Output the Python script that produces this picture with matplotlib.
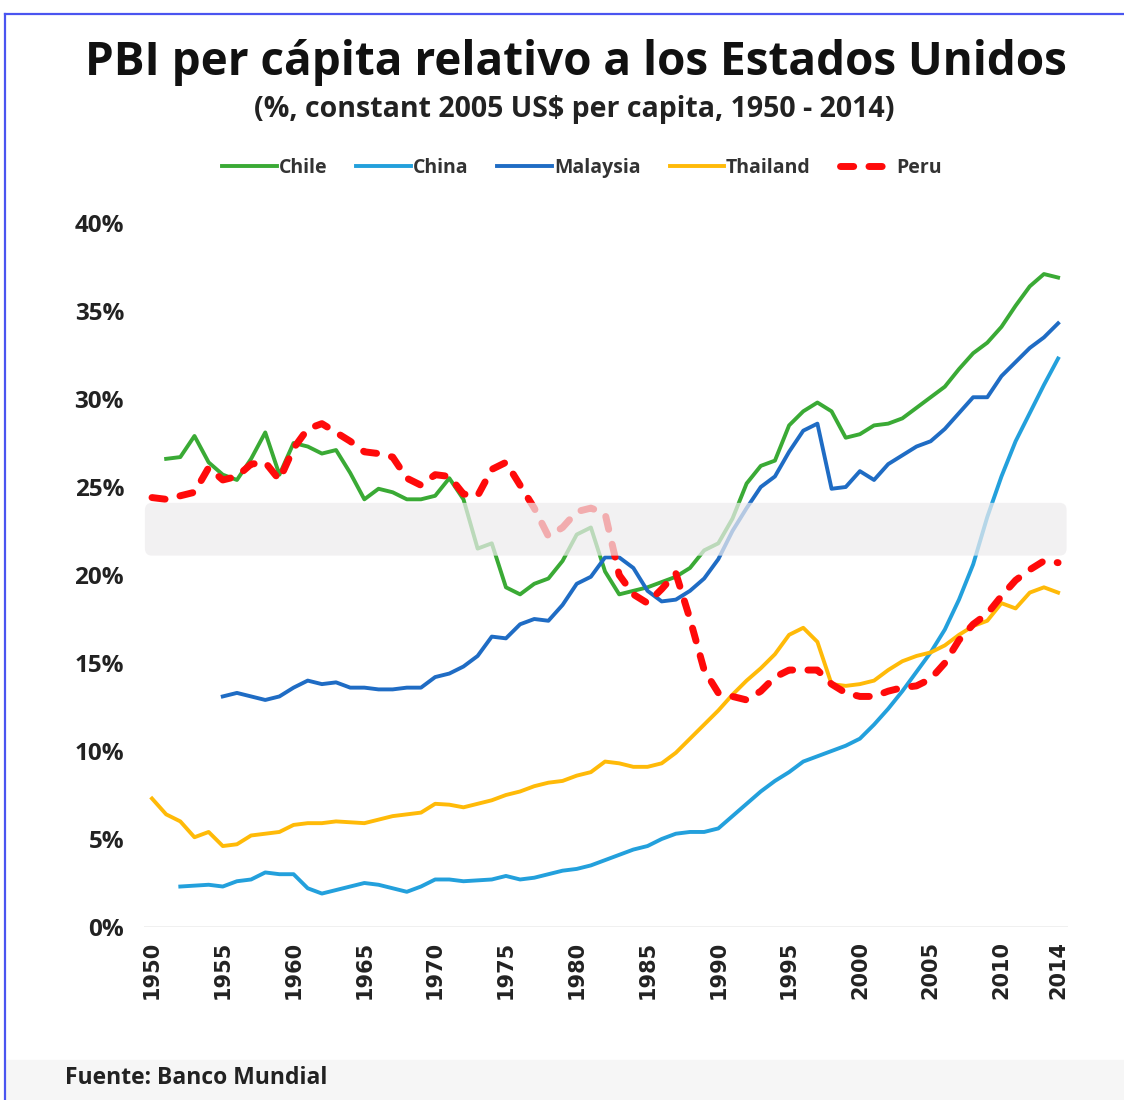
import numpy as np
import matplotlib
matplotlib.use('Agg')
import matplotlib.pyplot as plt
from matplotlib.patches import FancyBboxPatch, Rectangle
from matplotlib.lines import Line2D

plt.rcParams['font.family'] = ['Open Sans', 'DejaVu Sans']

years = list(range(1950, 2015))
nan = np.nan

chile = [nan, 26.6, 26.7, 27.9, 26.4, 25.7, 25.4, 26.6, 28.1, 25.7,
         27.5, 27.3, 26.9, 27.1, 25.8, 24.3, 24.9, 24.7, 24.3, 24.3,
         24.5, 25.5, 24.3, 21.5, 21.8, 19.3, 18.9, 19.5, 19.8, 20.8,
         22.3, 22.7, 20.2, 18.9, 19.1, 19.3, 19.6, 19.9, 20.4, 21.4,
         21.8, 23.2, 25.2, 26.2, 26.5, 28.5, 29.3, 29.8, 29.3, 27.8,
         28.0, 28.5, 28.6, 28.9, 29.5, 30.1, 30.7, 31.7, 32.6, 33.2,
         34.1, 35.3, 36.4, 37.1, 36.9]

china = [nan, nan, 2.3, 2.35, 2.4, 2.3, 2.6, 2.7, 3.1, 3.0,
         3.0, 2.2, 1.9, 2.1, 2.3, 2.5, 2.4, 2.2, 2.0, 2.3,
         2.7, 2.7, 2.6, 2.65, 2.7, 2.9, 2.7, 2.8, 3.0, 3.2,
         3.3, 3.5, 3.8, 4.1, 4.4, 4.6, 5.0, 5.3, 5.4, 5.4,
         5.6, 6.3, 7.0, 7.7, 8.3, 8.8, 9.4, 9.7, 10.0, 10.3,
         10.7, 11.5, 12.4, 13.4, 14.5, 15.6, 16.9, 18.6, 20.6, 23.3,
         25.6, 27.6, 29.2, 30.8, 32.3]

malaysia = [nan, nan, nan, nan, nan, 13.1, 13.3, 13.1, 12.9, 13.1,
            13.6, 14.0, 13.8, 13.9, 13.6, 13.6, 13.5, 13.5, 13.6, 13.6,
            14.2, 14.4, 14.8, 15.4, 16.5, 16.4, 17.2, 17.5, 17.4, 18.3,
            19.5, 19.9, 21.0, 21.0, 20.4, 19.1, 18.5, 18.6, 19.1, 19.8,
            20.9, 22.5, 23.8, 25.0, 25.6, 27.0, 28.2, 28.6, 24.9, 25.0,
            25.9, 25.4, 26.3, 26.8, 27.3, 27.6, 28.3, 29.2, 30.1, 30.1,
            31.3, 32.1, 32.9, 33.5, 34.3]

thailand = [7.3, 6.4, 6.0, 5.1, 5.4, 4.6, 4.7, 5.2, 5.3, 5.4,
            5.8, 5.9, 5.9, 6.0, 5.95, 5.9, 6.1, 6.3, 6.4, 6.5,
            7.0, 6.95, 6.8, 7.0, 7.2, 7.5, 7.7, 8.0, 8.2, 8.3,
            8.6, 8.8, 9.4, 9.3, 9.1, 9.1, 9.3, 9.9, 10.7, 11.5,
            12.3, 13.2, 14.0, 14.7, 15.5, 16.6, 17.0, 16.2, 13.8, 13.7,
            13.8, 14.0, 14.6, 15.1, 15.4, 15.6, 16.0, 16.6, 17.1, 17.4,
            18.4, 18.1, 19.0, 19.3, 19.0]

peru = [24.4, 24.3, 24.5, 24.7, 26.1, 25.4, 25.6, 26.3, 26.4, 25.4,
        27.2, 28.3, 28.6, 28.1, 27.6, 27.0, 26.9, 26.7, 25.5, 25.1,
        25.7, 25.6, 24.6, 24.5, 26.0, 26.4, 25.1, 23.8, 22.2, 22.7,
        23.6, 23.8, 23.5, 20.0, 18.9, 18.4, 19.2, 20.1, 17.5, 14.6,
        13.3, 13.1, 12.9, 13.4, 14.2, 14.6, 14.6, 14.6, 13.8, 13.3,
        13.1, 13.1, 13.4, 13.6, 13.7, 14.1, 15.0, 16.3, 17.2, 17.8,
        18.8, 19.7, 20.3, 20.8, 20.7]

band_low, band_high = 21.1, 24.1
xticks = [1950, 1955, 1960, 1965, 1970, 1975, 1980, 1985, 1990, 1995, 2000, 2005, 2010, 2014]
yticks = [0, 5, 10, 15, 20, 25, 30, 35, 40]

W, H = 1124, 1100
fig = plt.figure(figsize=(W / 100, H / 100), dpi=100)

# page decoration: blue frame on top/left, light grey strip at the bottom
fig.add_artist(Rectangle((6 / W, 0), 1, 40 / H, transform=fig.transFigure, color='#f6f6f6', zorder=0))
fig.add_artist(Line2D([5 / W, 1], [1 - 14 / H, 1 - 14 / H], transform=fig.transFigure, color='#4a55f0', lw=1.6))
fig.add_artist(Line2D([5 / W, 5 / W], [0, 1 - 14 / H], transform=fig.transFigure, color='#4a55f0', lw=1.6))

ax = fig.add_axes([143.5 / W, 1 - 927 / H, (1068 - 143.5) / W, (927 - 223) / H])
ax.set_xlim(1949.4, 2014.7)
ax.set_ylim(0, 40)
for s in ax.spines.values():
    s.set_visible(False)
ax.axhline(0, color='#eeeeee', lw=1.2, zorder=1)

ax.plot(years, chile, color='#3aaa35', lw=2.8, label='Chile', zorder=3)
ax.plot(years, china, color='#23a0dc', lw=2.8, label='China', zorder=3)
ax.plot(years, malaysia, color='#1f6cc4', lw=2.8, label='Malaysia', zorder=3)
ax.plot(years, thailand, color='#ffba08', lw=2.8, label='Thailand', zorder=3)
ax.plot(years, peru, color='#ff0a0a', lw=5, ls=(0, (1.9, 2.2)), dash_capstyle='round',
        label='Peru', zorder=4)

band = FancyBboxPatch((1949.5, band_low), 2014.6 - 1949.5, band_high - band_low,
                      boxstyle='round,pad=0,rounding_size=0.5', mutation_aspect=0.8,
                      facecolor='#eeecee', edgecolor='none', alpha=0.72, zorder=5)
ax.add_patch(band)

ax.set_yticks(yticks)
ax.set_yticklabels([f'{v}%' for v in yticks], fontsize=17.5, fontweight='bold', color='#222222')
ax.set_xticks(xticks)
ax.set_xticklabels([str(v) for v in xticks], rotation=90, fontsize=15, fontweight='bold',
                   color='#222222', family='DejaVu Sans')
ax.tick_params(axis='y', length=0, pad=14)
ax.tick_params(axis='x', length=0, pad=10)

fig.text(0.512, 1 - 62 / H, 'PBI per cápita relativo a los Estados Unidos', ha='center', va='center',
         fontsize=33, fontweight='bold', color='#111111')
fig.text(0.511, 1 - 110 / H, '(%, constant 2005 US$ per capita, 1950 - 2014)', ha='center', va='center',
         fontsize=20.5, fontweight='bold', color='#222222')

handles, labels = ax.get_legend_handles_labels()
fig.legend(handles, labels, loc='center', bbox_to_anchor=(582 / W, 1 - 168 / H), ncol=5, frameon=False,
           handlelength=2.8, handletextpad=0.1, columnspacing=1.5,
           prop={'size': 14, 'weight': 'bold'}, labelcolor='#333333')

fig.text(65 / W, 1 - 1078 / H, 'Fuente: Banco Mundial', ha='left', va='center',
         fontsize=16.5, fontweight='bold', color='#222222')

fig.savefig('out.png', dpi=100)
